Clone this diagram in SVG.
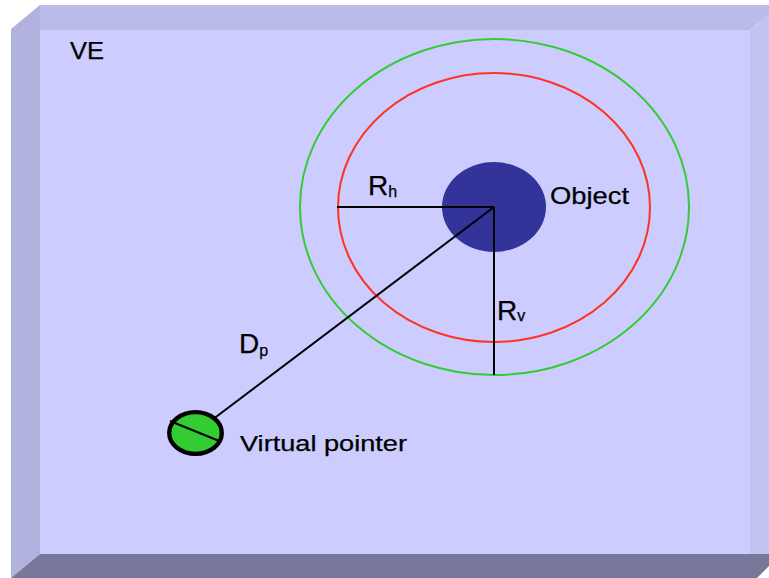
<svg xmlns="http://www.w3.org/2000/svg" width="769" height="578" viewBox="0 0 769 578">
<style>
text{font-family:"Liberation Sans",Arial,sans-serif;fill:#000;stroke:#000;stroke-width:0.25}
.lbl{font-size:28px}
.sub{font-size:16px}
.ln{stroke:#000;stroke-width:2;fill:none}
</style>
<rect width="769" height="578" fill="#ffffff"/>
<g id="ve">
<polygon points="40,30 750,30 750,554 40,554" fill="#ccccff"/>
<polygon points="40,5 769,5 769,14 750,30 40,30" fill="#bbbbe9"/>
<polygon points="11,29 40,5 40,554 11,578" fill="#b2b2de"/>
<polygon points="750,30 769,14 769,554 750,554" fill="#c3c3f2"/>
<polygon points="40,554 769,554 769,566 757,578 11,578" fill="#777799"/>
<text x="70" y="59" style="font-size:24px" textLength="34" lengthAdjust="spacingAndGlyphs">VE</text>
</g>
<g id="rings">
<ellipse cx="494.5" cy="207" rx="194.5" ry="168" fill="none" stroke="#33cc33" stroke-width="2"/>
<ellipse cx="494" cy="207.5" rx="156" ry="134.5" fill="none" stroke="#ff3322" stroke-width="2"/>
</g>
<g id="object">
<ellipse cx="494" cy="207" rx="52" ry="45" fill="#333399"/>
<text x="550" y="204" style="font-size:24px" textLength="79" lengthAdjust="spacingAndGlyphs">Object</text>
</g>
<g id="connectors">
<line class="ln" x1="337" y1="207" x2="494" y2="207"/>
<line class="ln" x1="494" y1="207" x2="494" y2="375"/>
<line class="ln" x1="494" y1="207" x2="196" y2="432"/>
</g>
<g id="labels">
<text class="lbl" x="368" y="195">R<tspan class="sub" dy="2">h</tspan></text>
<text class="lbl" x="497" y="320">R<tspan class="sub" dy="1">v</tspan></text>
<text class="lbl" x="239" y="353">D<tspan class="sub" dy="3">p</tspan></text>
</g>
<g id="pointer">
<ellipse cx="195.5" cy="433" rx="26.3" ry="20.8" fill="#33cc33" stroke="#000" stroke-width="4.3"/>
<line class="ln" x1="170" y1="421" x2="218" y2="440.5"/>
<text x="240" y="451" style="font-size:22px" textLength="167" lengthAdjust="spacingAndGlyphs">Virtual pointer</text>
</g>
</svg>
